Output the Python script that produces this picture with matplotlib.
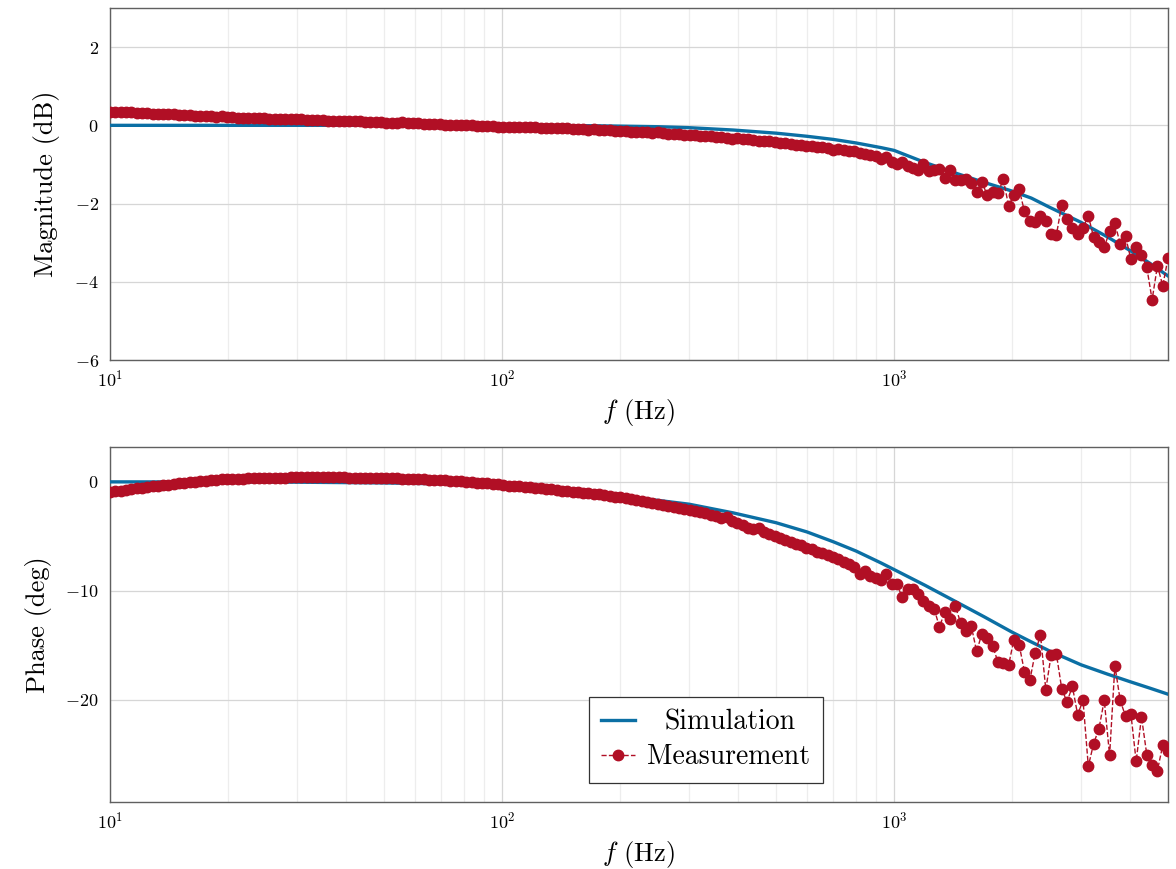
import matplotlib
matplotlib.use("Agg")
import matplotlib.pyplot as plt

plt.rcParams['font.family'] = 'serif'
plt.rcParams['font.serif'] = ['cmr10']
plt.rcParams['mathtext.fontset'] = 'cm'
plt.rcParams['axes.formatter.use_mathtext'] = True

# measured points (log spaced, 10 Hz .. 5 kHz)
freq = [10.0, 10.32, 10.65, 10.98, 11.33, 11.69, 12.06, 12.44, 12.84, 13.25,
        13.67, 14.10, 14.55, 15.01, 15.48, 15.98, 16.48, 17.01, 17.55, 18.10,
        18.68, 19.27, 19.88, 20.51, 21.16, 21.83, 22.52, 23.24, 23.98, 24.74,
        25.52, 26.33, 27.17, 28.03, 28.92, 29.83, 30.78, 31.76, 32.76, 33.80,
        34.88, 35.98, 37.12, 38.30, 39.52, 40.77, 42.06, 43.40, 44.77, 46.19,
        47.66, 49.17, 50.73, 52.34, 54.00, 55.71, 57.48, 59.31, 61.19, 63.13,
        65.13, 67.20, 69.33, 71.53, 73.80, 76.14, 78.55, 81.04, 83.62, 86.27,
        89.00, 91.83, 94.74, 97.75, 100.8, 104.1, 107.4, 110.8, 114.3, 117.9,
        121.6, 125.5, 129.5, 133.6, 137.8, 142.2, 146.7, 151.4, 156.2, 161.1,
        166.2, 171.5, 176.9, 182.5, 188.3, 194.3, 200.5, 206.8, 213.4, 220.2,
        227.2, 234.4, 241.8, 249.5, 257.4, 265.5, 274.0, 282.7, 291.6, 300.9,
        310.4, 320.3, 330.4, 340.9, 351.7, 362.9, 374.4, 386.3, 398.5, 411.2,
        424.2, 437.7, 451.6, 465.9, 480.7, 495.9, 511.6, 527.9, 544.6, 561.9,
        579.7, 598.1, 617.1, 636.7, 656.9, 677.7, 699.2, 721.4, 744.3, 767.9,
        792.2, 817.4, 843.3, 870.0, 897.6, 926.1, 955.5, 985.8, 1017, 1049,
        1083, 1117, 1152, 1189, 1227, 1266, 1306, 1347, 1390, 1434,
        1480, 1527, 1575, 1625, 1676, 1730, 1785, 1841, 1900, 1960,
        2022, 2086, 2152, 2221, 2291, 2364, 2439, 2516, 2596, 2678,
        2763, 2851, 2941, 3035, 3131, 3230, 3333, 3438, 3548, 3660,
        3776, 3896, 4020, 4147, 4279, 4414, 4554, 4699, 4848, 5000]

mag_meas = [0.35, 0.35, 0.34, 0.34, 0.33, 0.32, 0.32, 0.31, 0.30, 0.30,
            0.29, 0.29, 0.28, 0.27, 0.27, 0.26, 0.25, 0.25, 0.24, 0.23,
            0.22, 0.23, 0.22, 0.21, 0.20, 0.20, 0.19, 0.19, 0.18, 0.18,
            0.17, 0.17, 0.16, 0.16, 0.15, 0.15, 0.16, 0.14, 0.14, 0.13,
            0.13, 0.12, 0.12, 0.11, 0.11, 0.10, 0.11, 0.10, 0.09, 0.09,
            0.08, 0.08, 0.07, 0.07, 0.06, 0.08, 0.06, 0.05, 0.05, 0.04,
            0.04, 0.03, 0.03, 0.02, 0.02, 0.01, 0.01, 0.00, 0.00, -0.01,
            -0.01, -0.02, -0.01, -0.03, -0.03, -0.04, -0.04, -0.05, -0.05, -0.03,
            -0.04, -0.06, -0.06, -0.07, -0.07, -0.08, -0.08, -0.09, -0.10, -0.09,
            -0.11, -0.10, -0.12, -0.12, -0.13, -0.14, -0.14, -0.15, -0.16, -0.16,
            -0.17, -0.18, -0.19, -0.18, -0.20, -0.21, -0.22, -0.22, -0.24, -0.25,
            -0.25, -0.27, -0.28, -0.28, -0.30, -0.31, -0.32, -0.34, -0.33, -0.36,
            -0.36, -0.38, -0.39, -0.40, -0.41, -0.43, -0.44, -0.46, -0.47, -0.49,
            -0.50, -0.52, -0.53, -0.55, -0.56, -0.58, -0.62, -0.60, -0.63, -0.66,
            -0.65, -0.70, -0.72, -0.76, -0.79, -0.85, -0.81, -0.94, -0.98, -0.94,
            -1.05, -1.09, -1.14, -0.98, -1.17, -1.15, -1.11, -1.35, -1.14, -1.39,
            -1.41, -1.38, -1.48, -1.71, -1.45, -1.79, -1.71, -1.74, -1.38, -2.05,
            -1.79, -1.64, -2.20, -2.45, -2.48, -2.31, -2.45, -2.78, -2.80, -2.03,
            -2.39, -2.62, -2.79, -2.62, -2.31, -2.86, -2.97, -3.12, -2.71, -2.50,
            -3.03, -2.84, -3.42, -3.12, -3.31, -3.63, -4.46, -3.59, -4.10, -3.40]

phase_meas = [-0.95, -0.88, -0.80, -0.74, -0.67, -0.60, -0.54, -0.48, -0.42, -0.36,
              -0.30, -0.25, -0.20, -0.15, -0.10, -0.05, 0.00, 0.05, 0.10, 0.15,
              0.20, 0.22, 0.24, 0.26, 0.28, 0.30, 0.32, 0.33, 0.35, 0.36,
              0.38, 0.39, 0.40, 0.40, 0.41, 0.42, 0.42, 0.42, 0.42, 0.42,
              0.42, 0.42, 0.41, 0.41, 0.41, 0.40, 0.40, 0.39, 0.38, 0.37,
              0.36, 0.35, 0.34, 0.33, 0.32, 0.30, 0.28, 0.26, 0.24, 0.22,
              0.20, 0.18, 0.15, 0.13, 0.10, 0.08, 0.05, 0.02, -0.02, -0.06,
              -0.10, -0.14, -0.19, -0.24, -0.30, -0.34, -0.38, -0.42, -0.47, -0.51,
              -0.55, -0.60, -0.65, -0.70, -0.75, -0.80, -0.85, -0.90, -0.95, -1.00,
              -1.05, -1.10, -1.16, -1.22, -1.28, -1.35, -1.42, -1.50, -1.58, -1.66,
              -1.75, -1.84, -1.93, -2.02, -2.11, -2.20, -2.28, -2.37, -2.46, -2.55,
              -2.65, -2.78, -2.90, -3.05, -3.15, -3.30, -3.25, -3.55, -3.75, -3.95,
              -4.20, -4.35, -4.25, -4.60, -4.80, -5.00, -5.15, -5.35, -5.50, -5.70,
              -5.80, -6.05, -6.15, -6.40, -6.50, -6.70, -6.90, -7.10, -7.35, -7.55,
              -7.80, -8.50, -8.20, -8.60, -8.80, -8.99, -8.44, -9.39, -9.39, -10.58,
              -9.85, -9.85, -10.28, -10.92, -11.44, -11.65, -13.33, -11.96, -12.57, -11.44,
              -12.97, -13.73, -13.27, -15.57, -13.94, -14.34, -15.05, -16.54, -16.64, -16.85,
              -14.50, -14.95, -17.46, -18.23, -15.72, -14.04, -19.08, -15.93, -15.81, -18.99,
              -20.21, -18.78, -21.38, -20.06, -26.12, -24.04, -22.66, -20.06, -25.11, -16.88,
              -20.06, -21.53, -21.28, -25.66, -21.59, -25.05, -26.02, -26.51, -24.19, -24.68]

# simulated response
sim_freq = [10, 20, 30, 50, 70, 100, 130, 170, 200, 250, 300, 389, 500, 600, 700,
            800, 927, 1000, 1200, 1455, 1700, 2000, 2240, 2500, 3000, 3500, 4000,
            4500, 5000]
sim_mag = [0, 0, 0, 0, 0, 0, -0.005, -0.01, -0.02, -0.035, -0.06, -0.12, -0.2,
           -0.28, -0.36, -0.45, -0.57, -0.64, -0.95, -1.24, -1.46, -1.68, -1.86,
           -2.1, -2.48, -2.85, -3.2, -3.53, -3.85]
sim_phase = [0, -0.01, -0.03, -0.1, -0.18, -0.3, -0.55, -0.95, -1.3, -1.7,
             -2.05, -2.85, -3.75, -4.6, -5.5, -6.35, -7.45, -8.05, -9.5, -11.1,
             -12.4, -13.8, -14.7, -15.55, -16.8, -17.65, -18.35, -18.95, -19.5]

blue = '#0b6fa4'
red = '#b10f25'

fig = plt.figure(figsize=(11.76, 8.69), dpi=100)
ax1 = fig.add_axes([0.0935, 0.5857, 0.8997, 0.4051])
ax2 = fig.add_axes([0.0935, 0.0771, 0.8997, 0.4085])

for ax, ys, ym in [(ax1, sim_mag, mag_meas), (ax2, sim_phase, phase_meas)]:
    ax.plot(sim_freq, ys, color=blue, lw=2.4, label='Simulation', zorder=3)
    ax.plot(freq, ym, color=red, lw=1.0, ls='--', marker='o', ms=7.5,
            label='Measurement', zorder=4)
    ax.set_xscale('log')
    ax.set_xlim(10, 5000)
    ax.grid(True, which='major', color='#d6d6d6', lw=0.9)
    ax.grid(True, which='minor', axis='x', color='#ededed', lw=0.9)
    ax.tick_params(which='both', length=0, labelsize=13)
    ax.tick_params(axis='x', pad=6)
    ax.tick_params(axis='y', pad=8)
    for s in ax.spines.values():
        s.set_color('#606060')
        s.set_linewidth(1.0)
    ax.set_axisbelow(True)
    ax.set_xlabel('$f$ (Hz)', fontsize=19, labelpad=6)

ax1.set_ylim(-6, 3)
ax1.set_yticks([-6, -4, -2, 0, 2])
ax1.set_ylabel('Magnitude (dB)', fontsize=19, labelpad=10)

ax2.set_ylim(-29.4, 3.2)
ax2.set_yticks([-20, -10, 0])
ax2.set_ylabel('Phase (deg)', fontsize=19, labelpad=10)

leg = ax2.legend(loc='center', bbox_to_anchor=(0.563, 0.175), fontsize=20,
                 fancybox=False, framealpha=1, edgecolor='#333333',
                 handlelength=1.2, handletextpad=0.45, borderpad=0.45,
                 labelspacing=0.3)
leg.get_frame().set_linewidth(0.9)
# centre the shorter label like the original legend
leg.get_texts()[0].set_position((17, 0))

fig.savefig('out.png', dpi=100)
